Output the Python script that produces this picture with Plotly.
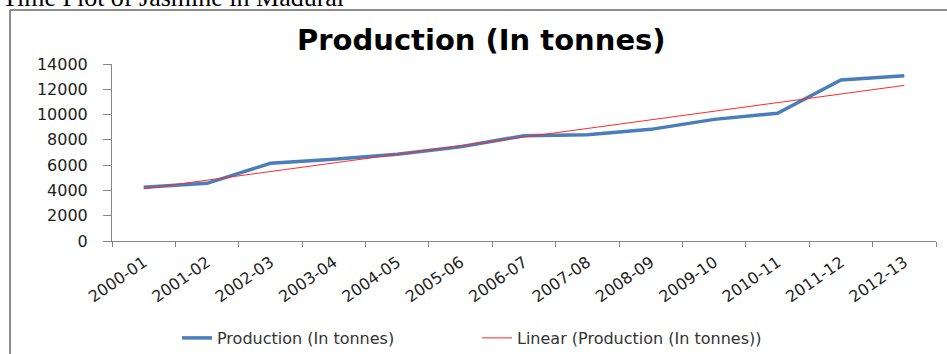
import numpy as np
import plotly.graph_objects as go

# Jasmine production in Madurai, by crop year
years = ["2000-01", "2001-02", "2002-03", "2003-04", "2004-05", "2005-06", "2006-07",
         "2007-08", "2008-09", "2009-10", "2010-11", "2011-12", "2012-13"]
production = [4250, 4560, 6150, 6460, 6860, 7460, 8330, 8410, 8830, 9620, 10100, 12740, 13080]
y_ticks = [0, 2000, 4000, 6000, 8000, 10000, 12000, 14000]

# least-squares linear trend over the series
idx = np.arange(len(production))
slope, intercept = np.polyfit(idx, production, 1)
trend = slope * idx + intercept

W, H = 947, 354
L, R, T, B = 112, 11, 64, 113
PW, PH = W - L - R, H - T - B


def px(x):
    return (x - L) / PW


def py(y):
    return (H - B - y) / PH


fig = go.Figure()
fig.add_trace(go.Scatter(
    x=years, y=production, mode="lines", name="Production (In tonnes)",
    line=dict(color="#4a7ebb", width=3.5),
))
fig.add_trace(go.Scatter(
    x=years, y=trend, mode="lines", name="Linear (Production (In tonnes))",
    line=dict(color="#ff2a2a", width=1),
))

axis_grey = "#868686"
fig.update_layout(
    width=W, height=H,
    margin=dict(l=L, r=R, t=T, b=B, autoexpand=False),
    paper_bgcolor="white", plot_bgcolor="white",
    font=dict(family="DejaVu Sans", color="#222222"),
    showlegend=True,
    legend=dict(orientation="h", x=px(177), xanchor="left", y=py(338), yanchor="middle",
                font=dict(size=16, color="#333333"), bgcolor="rgba(0,0,0,0)",
                entrywidthmode="pixels", entrywidth=255),
    xaxis=dict(type="category", range=[-0.5, len(years) - 0.5], automargin=False,
               showline=True, linecolor=axis_grey, linewidth=1,
               ticks="outside", ticklen=5, tickcolor=axis_grey, tickson="boundaries",
               tickangle=-35, tickfont=dict(size=16), showgrid=False,
               ticklabelstandoff=5),
    yaxis=dict(range=[0, 14000], tickvals=y_ticks, tickformat="d", automargin=False,
               showline=True, linecolor=axis_grey,
               linewidth=1, ticks="outside", ticklen=8, tickcolor=axis_grey,
               tickfont=dict(size=16), showgrid=False, zeroline=False,
               ticklabelstandoff=12),
    shapes=[
        dict(type="line", xref="paper", yref="paper", x0=px(10), x1=px(W + 5),
             y0=py(10), y1=py(10), line=dict(color="#8c8c8c", width=2)),
        dict(type="line", xref="paper", yref="paper", x0=px(10), x1=px(10),
             y0=py(10), y1=py(H + 5), line=dict(color="#8c8c8c", width=2)),
    ],
    annotations=[
        dict(text="<b>Production (In tonnes)</b>", xref="paper", yref="paper",
             x=px(481), y=py(40), xanchor="center", yanchor="middle", showarrow=False,
             font=dict(family="DejaVu Sans", size=29, color="#000000")),
        dict(text="Time Plot of Jasmine in Madurai", xref="paper", yref="paper",
             x=px(0), y=py(-3), xanchor="left", yanchor="middle", showarrow=False,
             font=dict(family="Liberation Serif", size=26, color="#000000")),
    ],
)

fig.write_html("out.html")
